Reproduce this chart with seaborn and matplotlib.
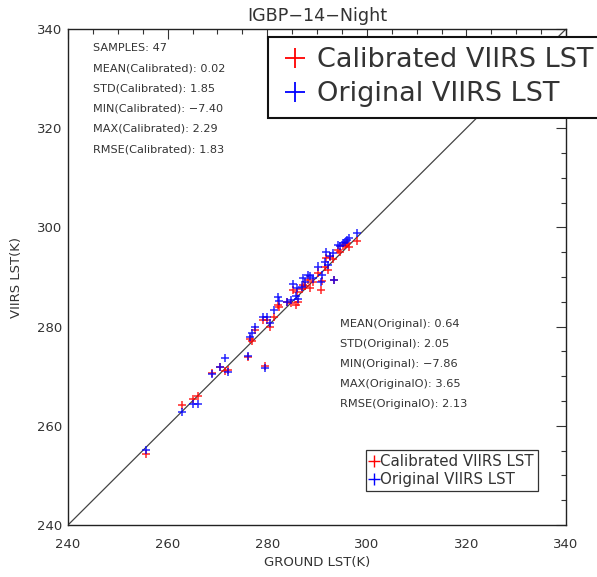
import numpy as np
import pandas as pd
import matplotlib
matplotlib.use("Agg")
import matplotlib.pyplot as plt
from matplotlib.lines import Line2D
from matplotlib.ticker import MultipleLocator
import seaborn as sns

# Ground-measured LST (K) for each sample
ground_lst = [
    255.7, 262.9, 265.1, 266.1, 268.9, 270.5, 271.5, 272.1, 276.1, 279.5,
    276.6, 277.0, 277.6, 279.2, 280.0, 281.4, 282.2, 282.4, 284.0, 284.8,
    286.2, 285.2, 286.0, 287.2, 288.2, 288.6, 291.0, 290.8, 291.6, 292.2,
    291.8, 293.2, 293.4, 294.2, 294.6, 295.2, 296.0, 296.4, 298.0, 285.8,
    287.6, 280.6, 289.2, 292.6, 295.6, 287.0, 290.2,
]
# Calibrated VIIRS LST (K)
calibrated_lst = [
    254.3, 264.2, 265.4, 266.0, 270.6, 271.9, 271.1, 271.3, 273.9, 272.1,
    277.5, 277.1, 279.3, 281.3, 281.3, 281.9, 284.4, 284.0, 285.0, 284.8,
    285.0, 287.4, 287.0, 288.4, 289.4, 287.8, 289.2, 287.4, 292.0, 291.4,
    293.8, 293.6, 289.4, 295.4, 295.0, 296.3, 296.9, 296.1, 297.3, 284.4,
    288.2, 279.9, 289.0, 294.0, 296.5, 287.6, 290.9,
]
# Original VIIRS LST (K)
original_lst = [
    255.1, 262.8, 264.4, 264.4, 270.4, 271.9, 273.7, 270.9, 274.1, 271.6,
    277.9, 278.7, 279.9, 281.9, 281.9, 283.4, 286.0, 285.2, 285.0, 285.4,
    285.6, 288.6, 287.8, 289.8, 290.4, 290.2, 290.4, 289.0, 293.0, 292.4,
    295.0, 294.8, 289.4, 296.5, 296.3, 296.9, 297.5, 297.9, 298.9, 286.2,
    289.0, 280.7, 289.7, 294.2, 297.1, 288.0, 292.1,
]

series_names = ["Calibrated VIIRS LST", "Original VIIRS LST"]
series_colors = ["#ff0000", "#0000ff"]

stats_calibrated = [
    "SAMPLES: 47",
    "MEAN(Calibrated): 0.02",
    "STD(Calibrated): 1.85",
    "MIN(Calibrated): \u22127.40",
    "MAX(Calibrated): 2.29",
    "RMSE(Calibrated): 1.83",
]
stats_original = [
    "MEAN(Original): 0.64",
    "STD(Original): 2.05",
    "MIN(Original): \u22127.86",
    "MAX(OriginalO): 3.65",
    "RMSE(OriginalO): 2.13",
]

df = pd.concat([
    pd.DataFrame({"ground": ground_lst, "viirs": calibrated_lst, "series": series_names[0]}),
    pd.DataFrame({"ground": ground_lst, "viirs": original_lst, "series": series_names[1]}),
], ignore_index=True)

sns.set_theme(style="white")
plt.rcParams["font.family"] = ["DejaVu Sans"]
text_color = "#333333"

fig = plt.figure(figsize=(5.97, 5.77), dpi=100)
W, H = 597, 577
ax = fig.add_axes([68 / W, 1 - 525 / H, (566 - 68) / W, (525 - 29) / H])

# 1:1 reference line
ax.plot([240, 340], [240, 340], color="#444444", lw=0.9, zorder=1)

sns.scatterplot(
    data=df, x="ground", y="viirs", hue="series",
    hue_order=series_names, palette=series_colors,
    marker="+", s=36, linewidth=1.1, alpha=0.85,
    legend=False, ax=ax, zorder=2,
)

ax.set_xlim(240, 340)
ax.set_ylim(240, 340)
ax.xaxis.set_major_locator(MultipleLocator(20))
ax.yaxis.set_major_locator(MultipleLocator(20))
ax.xaxis.set_minor_locator(MultipleLocator(5))
ax.yaxis.set_minor_locator(MultipleLocator(5))
ax.tick_params(which="both", direction="in", top=True, right=True,
               colors="#333333", labelcolor=text_color, labelsize=9.5, width=0.8)
ax.tick_params(which="major", length=7)
ax.tick_params(which="minor", length=3.5)
ax.tick_params(axis="x", pad=9)
ax.tick_params(axis="y", pad=4)
for sp in ax.spines.values():
    sp.set_color("#222222")
    sp.set_linewidth(1.0)

ax.set_xlabel("GROUND LST(K)", fontsize=9.5, color=text_color, labelpad=4)
ax.set_ylabel("VIIRS LST(K)", fontsize=9.5, color=text_color, labelpad=10)
ax.set_title("IGBP\u221214\u2212Night", fontsize=12.6, color=text_color, pad=6)

# Statistics text blocks
for i, line in enumerate(stats_calibrated):
    ax.text((93 - 68) / 498, (525 - 48 - i * 20.2) / 496, line,
            transform=ax.transAxes, fontsize=8.1, color=text_color, va="center")
for i, line in enumerate(stats_original):
    ax.text((340 - 68) / 498, (525 - 324 - i * 20) / 496, line,
            transform=ax.transAxes, fontsize=8.2, color=text_color, va="center")

handles = [Line2D([], [], ls="none", marker="+", color=c, markersize=14, mew=1.3)
           for c in series_colors]
big = ax.legend(handles, series_names, loc="upper left",
                bbox_to_anchor=((268 - 68) / 498, (525 - 37) / 496),
                borderaxespad=0, fontsize=19.5, frameon=True, fancybox=False,
                edgecolor="#111111", framealpha=1, handlelength=1.2,
                handletextpad=0.22, borderpad=0.38, labelspacing=0.3)
big.get_frame().set_linewidth(1.5)
for t in big.get_texts():
    t.set_color(text_color)
ax.add_artist(big)

small_handles = [Line2D([], [], ls="none", marker="+", color=c, markersize=8, mew=1.0)
                 for c in series_colors]
small = ax.legend(small_handles, series_names, loc="upper left",
                  bbox_to_anchor=((366 - 68) / 498, (525 - 450) / 496),
                  borderaxespad=0, fontsize=10.8, frameon=True, fancybox=False,
                  edgecolor="#333333", framealpha=1, handlelength=0.5,
                  handletextpad=0.15, borderpad=0.3, labelspacing=0.16)
small.get_frame().set_linewidth(0.9)
for t in small.get_texts():
    t.set_color(text_color)

fig.savefig("out.png", dpi=100)
